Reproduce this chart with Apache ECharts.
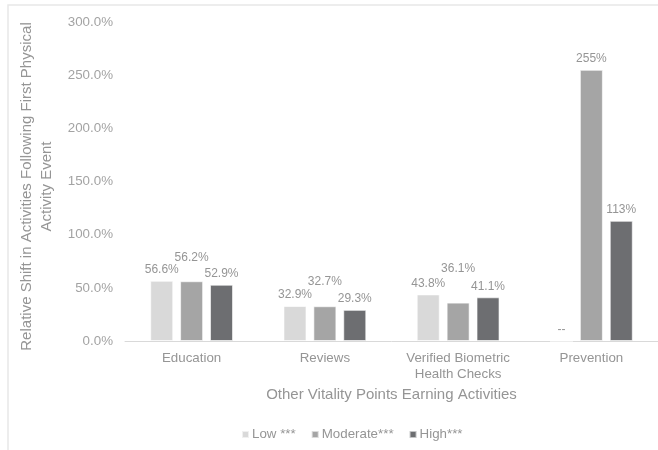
<!DOCTYPE html>
<html>
<head>
<meta charset="utf-8">
<script src="https://cdn.jsdelivr.net/npm/echarts@6/dist/echarts.min.js"></script>
<style>
html,body{margin:0;padding:0;background:#fff;}
#chart{width:658px;height:450px;}
</style>
</head>
<body>
<div id="chart"></div>
<script>
const categories = ['Education', 'Reviews', 'Verified Biometric\nHealth Checks', 'Prevention'];
const seriesNames = ['Low ***', 'Moderate***', 'High***'];
const lowValues = [56.6, 32.9, 43.8, null];
const moderateValues = [56.2, 32.7, 36.1, 255];
const highValues = [52.9, 29.3, 41.1, 113];
const lowLabels = ['56.6%', '32.9%', '43.8%', '--'];
const moderateLabels = ['56.2%', '32.7%', '36.1%', '255%'];
const highLabels = ['52.9%', '29.3%', '41.1%', '113%'];

const FONT = '"Liberation Sans", Arial, Helvetica, sans-serif';
const colors = ['#d9d9d9', '#a5a5a5', '#6d6e71'];
const TEXT = '#959595';
// style: manual label lifts for the Moderate series (px)
const moderateLift = [13, 14, 23, 0];

function makeSeries(name, values, labels, color, lifts) {
  return {
    name: name,
    type: 'bar',
    barWidth: 23,
    barGap: '30%',
    itemStyle: { color: color, borderColor: 'rgba(255,255,255,0.6)', borderWidth: 1 },
    data: values.map((v, i) => ({
      value: v === null ? 0 : v,
      label: {
        show: true,
        position: 'top',
        distance: 5,
        offset: [0, lifts ? -lifts[i] : 0],
        formatter: () => labels[i],
        color: TEXT,
        fontSize: 12,
        fontFamily: FONT
      }
    }))
  };
}

const chart = echarts.init(document.getElementById('chart'), null, { renderer: 'canvas' });
chart.setOption({
  animation: false,
  backgroundColor: '#fff',
  color: colors,
  graphic: [{
    type: 'rect',
    shape: { x: 8, y: 5, width: 700, height: 500 },
    style: { fill: 'none', stroke: '#e8e8e8', lineWidth: 1.5 },
    silent: true,
    z: -10
  }],
  grid: { left: 125, top: 22, width: 536, height: 319, containLabel: false },
  legend: {
    bottom: 4,
    left: 236,
    itemWidth: 7,
    itemHeight: 7,
    itemGap: 15,
    icon: 'rect',
    textStyle: { color: TEXT, fontSize: 13.33, fontFamily: FONT, padding: [0, 0, 0, -2] },
    data: seriesNames
  },
  xAxis: {
    type: 'category',
    data: categories,
    name: 'Other Vitality Points Earning Activities',
    nameLocation: 'middle',
    nameGap: 44,
    nameTextStyle: { color: TEXT, fontSize: 15, fontFamily: FONT },
    axisLine: { show: true, lineStyle: { color: '#d9d9d9', width: 1 } },
    axisTick: { show: false },
    axisLabel: { color: TEXT, fontSize: 13.33, fontFamily: FONT, margin: 9, lineHeight: 16, interval: 0 }
  },
  yAxis: {
    type: 'value',
    min: 0,
    max: 300,
    interval: 50,
    name: 'Relative Shift in Activities Following First Physical\nActivity Event',
    nameLocation: 'middle',
    nameGap: 58,
    nameTextStyle: { color: TEXT, fontSize: 15, fontFamily: FONT, lineHeight: 20, align: 'center', padding: [0, 10, 0, 0] },
    axisLine: { show: false },
    axisTick: { show: false },
    splitLine: { show: false },
    axisLabel: { color: '#a3a3a3', fontSize: 13.33, fontFamily: FONT, margin: 12, formatter: v => v.toFixed(1) + '%' }
  },
  series: [
    makeSeries(seriesNames[0], lowValues, lowLabels, colors[0], null),
    makeSeries(seriesNames[1], moderateValues, moderateLabels, colors[1], moderateLift),
    makeSeries(seriesNames[2], highValues, highLabels, colors[2], null)
  ]
});
</script>
</body>
</html>
